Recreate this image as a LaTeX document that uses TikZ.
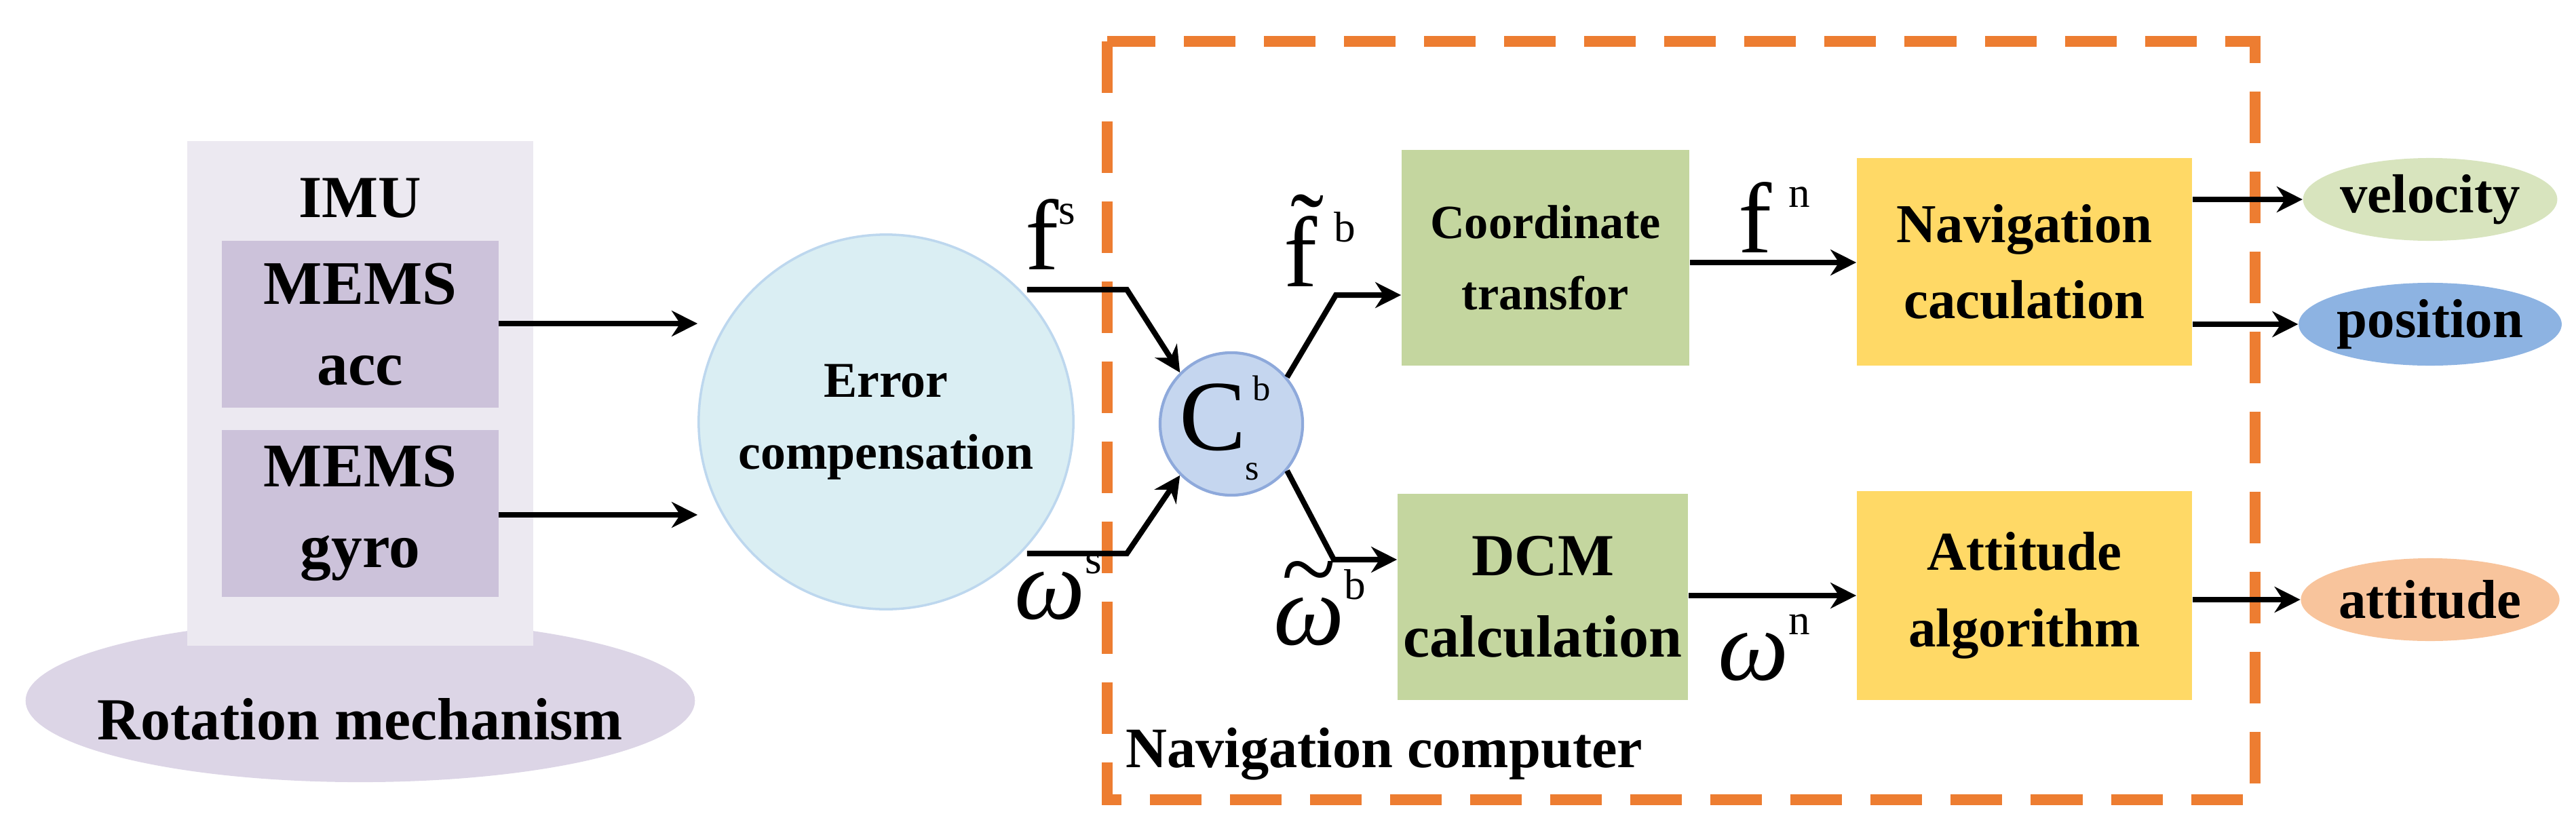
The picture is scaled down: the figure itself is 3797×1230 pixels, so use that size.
\documentclass[tikz,border=0pt]{standalone}
\usepackage{fontspec}
\setmainfont{Liberation Serif}
\usetikzlibrary{arrows.meta,shapes.geometric}
\definecolor{imubg}{HTML}{ECE9F1}
\definecolor{mems}{HTML}{CCC2DA}
\definecolor{rot}{HTML}{DCD5E6}
\definecolor{errf}{HTML}{DAEEF3}
\definecolor{errd}{HTML}{BDD7EE}
\definecolor{csf}{HTML}{C5D6EF}
\definecolor{csd}{HTML}{8EA9DB}
\definecolor{grn}{HTML}{C4D69F}
\definecolor{yel}{HTML}{FFD966}
\definecolor{velc}{HTML}{D8E4BE}
\definecolor{posc}{HTML}{8DB3E2}
\definecolor{attc}{HTML}{F8C49C}
\definecolor{orng}{HTML}{ED7D31}
\newcommand{\supx}[1]{\raisebox{0.45em}{\fontsize{18}{18}\selectfont #1}}
\newcommand{\tildeomega}{\ooalign{\textit{ω}\cr\hidewidth\raisebox{0.42em}{\~{}}\hidewidth\cr}}
\begin{document}
\begin{tikzpicture}[x=0.01cm,y=-0.01cm,
  box/.style={rectangle,inner sep=0pt,align=center,font=\bfseries\fontsize{24}{27}\selectfont},
  oval/.style={ellipse,inner sep=0pt,minimum width=3.54cm,minimum height=1.22cm,font=\bfseries\fontsize{23}{26}\selectfont},
  arr/.style={line width=2.3pt,-{Stealth[length=0.38cm,width=0.38cm]}},
  lab/.style={font=\fontsize{42}{42}\selectfont,inner sep=0pt}]
\useasboundingbox (0,0) rectangle (3797,1230);
% rotation + IMU
\node[ellipse,fill=rot,minimum width=9.86cm,minimum height=2.4cm,inner sep=0pt] (rot) at (531,1033) {};
\node[rectangle,fill=imubg,minimum width=5.09cm,minimum height=7.43cm,inner sep=0pt] (imu) at (531,580) {};
\node[font=\bfseries\fontsize{25}{27}\selectfont] (rottxt) at (531,1060) {Rotation mechanism};
\node[font=\bfseries\fontsize{25}{28}\selectfont] (imutxt) at (531,292) {IMU};
\node[box,fill=mems,minimum width=4.07cm,minimum height=2.46cm,font=\bfseries\fontsize{26}{34}\selectfont] (acc) at (531,478) {MEMS\\acc};
\node[box,fill=mems,minimum width=4.07cm,minimum height=2.45cm,font=\bfseries\fontsize{26}{34}\selectfont] (gyro) at (531,757) {MEMS\\gyro};
% error compensation
\node[circle,fill=errf,draw=errd,line width=1pt,minimum size=5.52cm,inner sep=0pt,align=center,font=\bfseries\fontsize{21}{30}\selectfont] (err) at (1306,622) {Error\\compensation};
% dashed frame
\draw[orng,line width=4.8pt,dash pattern=on 0.76cm off 0.42cm] (1632,61) rectangle (3324,1179);
\node[fill=white,inner sep=3pt,anchor=west,font=\bfseries\fontsize{24}{27}\selectfont] (navcomp) at (1648,1112) {Navigation computer};
% Cs
\node[circle,fill=csf,draw=csd,line width=1.2pt,minimum size=2.1cm,inner sep=0pt] (cs) at (1815,625) {};
\node[lab] (csC) at (1788,615) {C};
\node[font=\fontsize{15}{15}\selectfont,inner sep=0pt] (csb) at (1860,572) {b};
\node[font=\fontsize{15}{15}\selectfont,inner sep=0pt] (css) at (1846,695) {s};
% boxes
\node[box,fill=grn,minimum width=4.24cm,minimum height=3.17cm,font=\bfseries\fontsize{20}{30}\selectfont] (coord) at (2278,380) {Coordinate\\transfor};
\node[box,fill=grn,minimum width=4.28cm,minimum height=3.03cm,font=\bfseries\fontsize{25}{34}\selectfont] (dcm) at (2274,880) {DCM\\calculation};
\node[box,fill=yel,minimum width=4.94cm,minimum height=3.06cm,font=\bfseries\fontsize{23}{32}\selectfont] (nav) at (2984,386) {Navigation\\caculation};
\node[box,fill=yel,minimum width=4.94cm,minimum height=3.07cm,font=\bfseries\fontsize{23}{32}\selectfont] (att) at (2984,878) {Attitude\\algorithm};
\node[oval,fill=velc] (vel) at (3582,294) {velocity};
\node[oval,fill=posc] (pos) at (3582,478) {position};
\node[oval,fill=attc] (atto) at (3582,884) {attitude};
% connectors
\draw[arr] (acc.east |- 0,477) -- (err.west |- 0,477);
\draw[arr] (gyro.east |- 0,759) -- (err.west |- 0,759);
\coordinate (fsk) at (1661,427);
\coordinate (wsk) at (1661,816);
\draw[arr] (err.east |- 0,427) ++(-70,0) -- (fsk) -- (cs.135);
\draw[arr] (err.east |- 0,816) ++(-70,0) -- (wsk) -- (cs.-135);
\coordinate (fbk) at (1969,435);
\coordinate (wbk) at (1966,825);
\draw[arr] (cs.40) -- (fbk) -- (coord.west |- fbk);
\draw[arr] (cs.-40) -- (wbk) -- (dcm.west |- wbk);
\draw[arr] (coord.east |- 0,387) -- (nav.west |- 0,387);
\draw[arr] (dcm.east |- 0,878) -- (att.west |- 0,878);
\draw[arr] (nav.east |- vel) -- (vel.west);
\draw[arr] (nav.east |- pos) -- (pos.west);
\draw[arr] (att.east |- atto) -- (atto.west);
% labels
\node[lab] (fs) at (1548,345) {f\supx{s}};
\node[lab] (ws) at (1560,865) {\textit{ω}\supx{s}};
\node[lab] (fb) at (1945,355) {\~f\,\supx{b}};
\node[lab] (wb) at (1945,895) {\tildeomega\supx{b}};
\node[lab] (fn) at (2615,320) {f\,\supx{n}};
\node[lab] (wn) at (2600,955) {\textit{ω}\supx{n}};
\end{tikzpicture}
\end{document}
